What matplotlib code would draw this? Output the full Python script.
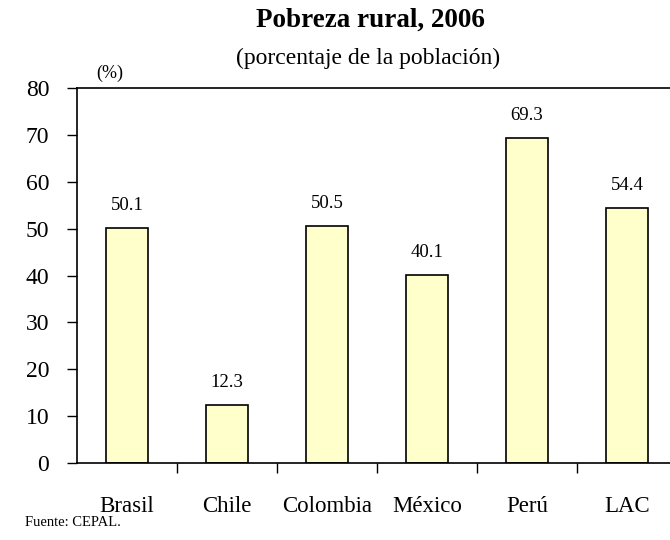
import matplotlib.pyplot as plt
import numpy as np

# datos
paises = ['Brasil', 'Chile', 'Colombia', 'México', 'Perú', 'LAC']
pobreza = [50.1, 12.3, 50.5, 40.1, 69.3, 54.4]

plt.rcParams['font.family'] = ['Liberation Serif', 'DejaVu Serif']

fig = plt.figure(figsize=(6.7, 5.4), dpi=100)
ax = fig.add_axes([77 / 670, 1 - 463 / 540, 600 / 670, 375 / 540])

x = np.arange(len(paises))
ax.bar(x, pobreza, width=0.42, color='#FFFFCC', edgecolor='black', linewidth=1.2)

for xi, v in zip(x, pobreza):
    ax.text(xi, v + 3, f'{v:.1f}', ha='center', va='bottom', fontsize=13.5)

ax.set_xlim(-0.5, len(paises) - 0.5)
ax.set_ylim(0, 80)
ax.set_yticks(range(0, 81, 10))
ax.tick_params(axis='y', labelsize=17, length=7, width=1, direction='out', pad=13)

ax.set_xticks(x)
ax.set_xticklabels(paises, fontsize=16.5)
ax.tick_params(axis='x', which='major', length=0, pad=24)
ax.set_xticks(x[:-1] + 0.5, minor=True)
ax.tick_params(axis='x', which='minor', length=7, width=1, direction='out')

for s in ['left', 'bottom', 'top']:
    ax.spines[s].set_linewidth(1.2)
ax.spines['right'].set_visible(False)

fig.text(370 / 670, 1 - 20 / 540, 'Pobreza rural, 2006', ha='center', va='center',
         fontsize=19.5, fontweight='bold')
fig.text(368 / 670, 1 - 58 / 540, '(porcentaje de la población)', ha='center', va='center',
         fontsize=17)
fig.text(110 / 670, 1 - 73 / 540, '(%)', ha='center', va='center', fontsize=13)
fig.text(25 / 670, 1 - 523 / 540, 'Fuente: CEPAL.', ha='left', va='center', fontsize=10.5)

fig.savefig('out.png', dpi=100)
